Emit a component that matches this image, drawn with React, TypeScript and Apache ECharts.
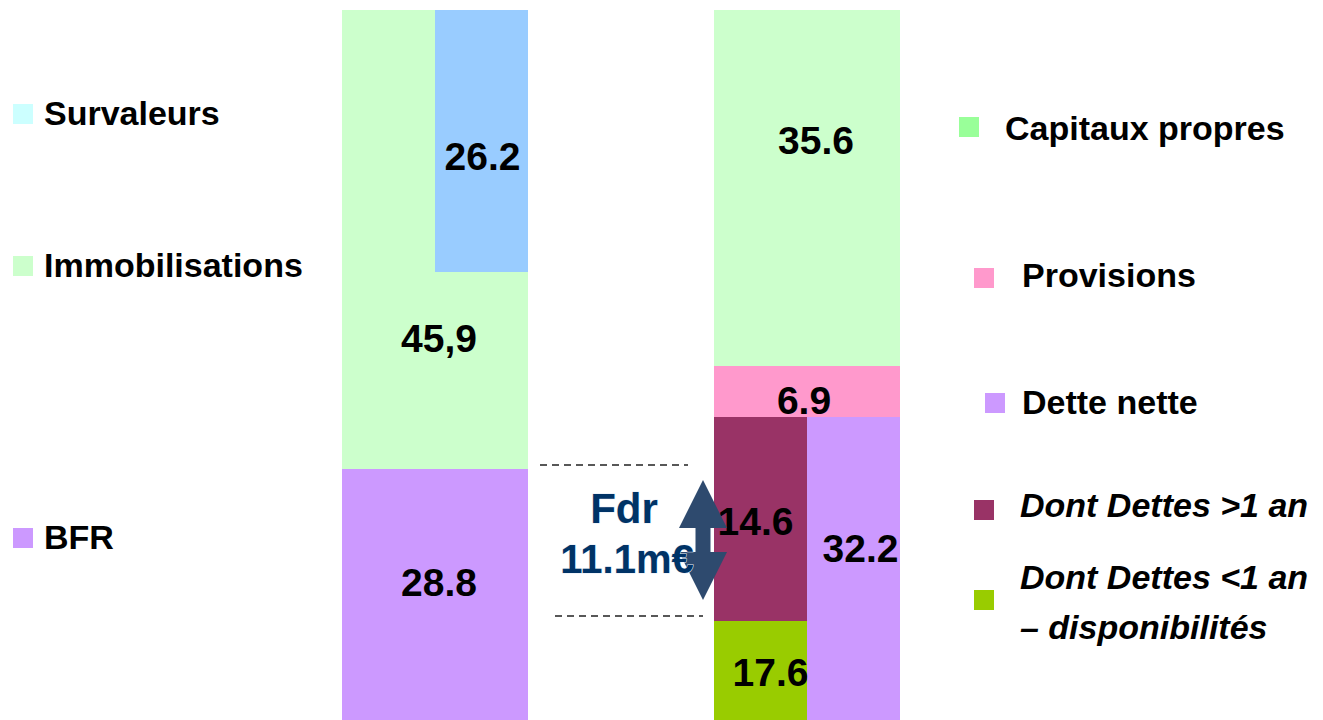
import React, { useEffect, useRef } from 'react';
import * as echarts from 'echarts';

// ---------- data ----------
const narrowCategories = ['Actif-1', 'Actif-2', 'Gap-1', 'Gap-2', 'Passif-1', 'Passif-2'];
const wideCategories = ['Actif', 'Gap', 'Passif'];

// segment heights as drawn in the picture (units), bottom to top
const bfr = [28.8, 28.8, '-', '-', '-', '-'];
const immobilisations = [45.9, 19.7, '-', '-', '-', '-'];
const survaleurs = ['-', 26.2, '-', '-', '-', '-'];
const dettesMoins1An = ['-', '-', '-', '-', 13.6, '-'];
const dettesPlus1An = ['-', '-', '-', '-', 20.4, '-'];
const detteNette = ['-', '-', '-', '-', '-', 34.0];
const provisions = ['-', '-', '-', '-', 5.1, 5.1];
const capitauxPropres = ['-', '-', '-', '-', 35.6, 35.6];
const totalBilan = 74.7;

// printed values
const wideLabels = ['45,9', '28.8', '35.6', '6.9'];
const wideLabelCats = ['Actif', 'Actif', 'Passif', 'Passif'];
const wideLabelLevels = [41.9, 17.5, 61.7, 35.7];
const narrowLabels = ['26.2', '14.6', '32.2', '17.6'];
const narrowLabelCats = ['Actif-2', 'Passif-1', 'Passif-2', 'Passif-1'];
const narrowLabelLevels = [60.1, 23.6, 20.9, 8.5];

const fdrTitle = 'Fdr';
const fdrValue = '11.1m€';

const leftLegend = ['Survaleurs', 'Immobilisations', 'BFR'];
const rightLegend = ['Capitaux propres', 'Provisions', 'Dette nette', 'Dont Dettes >1 an', 'Dont Dettes <1 an\n– disponibilités'];

// ---------- styles ----------
const FONT = '"Liberation Sans", Arial, Helvetica, sans-serif';
const C = {
  bfr: '#CC99FF',
  immo: '#CCFFCC',
  surv: '#99CCFF',
  survLegend: '#CCFFFF',
  cap: '#CCFFCC',
  capLegend: '#99FF99',
  prov: '#FF99CC',
  dn: '#CC99FF',
  plus1: '#993366',
  moins1: '#99CC00',
  navy: '#003366',
  arrow: '#2E4A6E',
};

const labelOffsets: Record<string, number> = {
  '45,9': 4, '28.8': 4, '35.6': 9, '6.9': -3, '26.2': 1, '14.6': -5, '32.2': 7, '17.6': 10,
};

function barSeries(name: string, data: any[], color: string) {
  return {
    name,
    type: 'bar',
    stack: 'bilan',
    xAxisIndex: 0,
    yAxisIndex: 0,
    barWidth: '100%',
    data,
    itemStyle: { color, borderWidth: 0 },
    emphasis: { disabled: true },
    z: 2,
  };
}

function labelSeries(texts: string[], cats: string[], levels: number[], axis: number) {
  return {
    type: 'scatter',
    xAxisIndex: axis,
    yAxisIndex: 0,
    symbol: 'rect',
    symbolSize: 1,
    itemStyle: { color: 'rgba(0,0,0,0)' },
    z: 10,
    silent: true,
    data: texts.map((t, i) => ({
      name: t,
      value: [cats[i], levels[i]],
      label: { offset: [labelOffsets[t] || 0, 0] },
    })),
    label: {
      show: true,
      position: ['50%', '50%'],
      align: 'center',
      verticalAlign: 'middle',
      formatter: (p: any) => p.name,
      color: '#000000',
      opacity: 1,
      textBorderWidth: 0,
      fontFamily: FONT,
      fontWeight: 'bold',
      fontSize: 39,
    },
  };
}

function legendItems() {
  const els: any[] = [];
  const leftColors = [C.survLegend, C.immo, C.bfr];
  const leftY = [113, 265, 537];
  leftLegend.forEach((t, i) => {
    els.push({ type: 'rect', shape: { x: 13, y: leftY[i] - 9, width: 20, height: 20 }, style: { fill: leftColors[i] } });
    els.push({
      type: 'text', x: 44, y: leftY[i],
      style: { text: t, fill: '#000', font: `bold 34px ${FONT}`, verticalAlign: 'middle', align: 'left' },
    });
  });
  const rightColors = [C.capLegend, C.prov, C.dn, C.plus1, C.moins1];
  const sqX = [959, 974, 985, 974, 974];
  const sqY = [117, 268, 393, 500, 590];
  const txtX = [1005, 1022, 1022, 1020, 1020];
  const txtY = [128, 275, 402, 505, 602];
  rightLegend.forEach((t, i) => {
    els.push({ type: 'rect', shape: { x: sqX[i], y: sqY[i], width: 20, height: 20 }, style: { fill: rightColors[i] } });
    const italic = i >= 3;
    els.push({
      type: 'text', x: txtX[i], y: txtY[i],
      style: {
        text: t, fill: '#000',
        font: `${italic ? 'italic ' : ''}bold 34px ${FONT}`,
        lineHeight: 50,
        verticalAlign: 'middle', align: 'left',
      },
    });
  });
  return els;
}

function annotations() {
  const cx = 703;
  const hw = 24; // half head width
  const sw = 7.5; // half shaft width
  const pts = [
    [cx, 480], [cx + hw, 528], [cx + sw, 528], [cx + sw, 552], [cx + hw, 552],
    [cx, 600], [cx - hw, 552], [cx - sw, 552], [cx - sw, 528], [cx - hw, 528],
  ];
  return [
    { type: 'line', z: 20, shape: { x1: 540, y1: 465, x2: 688, y2: 465 }, style: { stroke: '#222', lineWidth: 1.3, lineDash: [7, 5] } },
    { type: 'line', z: 20, shape: { x1: 555, y1: 616, x2: 703, y2: 616 }, style: { stroke: '#222', lineWidth: 1.3, lineDash: [7, 5] } },
    { type: 'polygon', z: 20, shape: { points: pts }, style: { fill: C.arrow } },
    {
      type: 'text', z: 30, x: 624, y: 508,
      style: { text: fdrTitle, fill: C.navy, font: `bold 42px ${FONT}`, align: 'center', verticalAlign: 'middle', stroke: '#e6eef8', lineWidth: 1 },
    },
    {
      type: 'text', z: 30, x: 627, y: 559,
      style: { text: fdrValue, fill: C.navy, font: `bold 40px ${FONT}`, align: 'center', verticalAlign: 'middle', stroke: '#e6eef8', lineWidth: 1 },
    },
  ];
}

export default function App() {
  const ref = useRef<HTMLDivElement>(null);
  useEffect(() => {
    if (!ref.current) return;
    const chart = echarts.init(ref.current, undefined, { renderer: 'svg' });
    chart.setOption({
      animation: false,
      backgroundColor: '#fff',
      grid: { left: 342, top: 10, width: 558, height: 747 },
      xAxis: [
        { type: 'category', data: narrowCategories, show: false, boundaryGap: true },
        { type: 'category', data: wideCategories, show: false, boundaryGap: true },
      ],
      yAxis: [{ type: 'value', min: 0, max: totalBilan, show: false }],
      series: [
        barSeries('BFR', bfr, C.bfr),
        barSeries('Immobilisations', immobilisations, C.immo),
        barSeries('Survaleurs', survaleurs, C.surv),
        barSeries('Dont Dettes <1 an – disponibilités', dettesMoins1An, C.moins1),
        barSeries('Dont Dettes >1 an', dettesPlus1An, C.plus1),
        barSeries('Dette nette', detteNette, C.dn),
        barSeries('Provisions', provisions, C.prov),
        barSeries('Capitaux propres', capitauxPropres, C.cap),
        labelSeries(wideLabels, wideLabelCats, wideLabelLevels, 1),
        labelSeries(narrowLabels, narrowLabelCats, narrowLabelLevels, 0),
      ],
      graphic: [...legendItems(), ...annotations()],
    });
    return () => chart.dispose();
  }, []);
  return <div ref={ref} style={{ position: 'fixed', left: 0, top: 0, width: 1323, height: 770, overflow: 'hidden' }} />;
}
